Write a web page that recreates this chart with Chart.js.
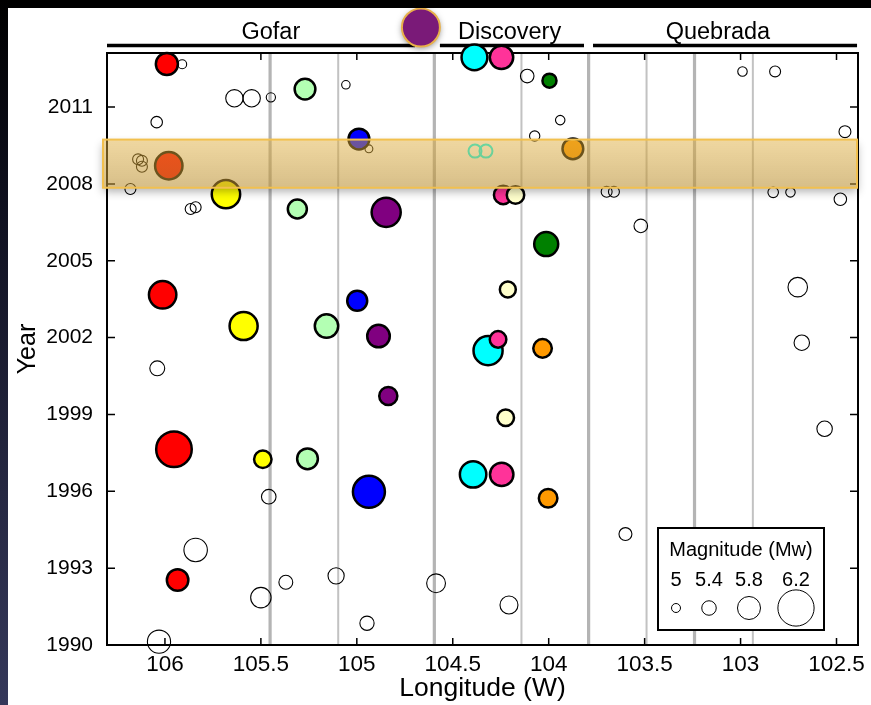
<!DOCTYPE html>
<html><head><meta charset="utf-8">
<script src="https://cdn.jsdelivr.net/npm/chart.js@4.4.1/dist/chart.umd.min.js"></script>
<style>
html,body{margin:0;padding:0;background:#000;width:871px;height:705px;overflow:hidden;}
#strip{position:absolute;left:0;top:0;width:8px;height:705px;background:linear-gradient(#000 0%,#101120 30%,#262842 70%,#35385a 100%);}
#wrap{position:absolute;left:8px;top:8px;width:863px;height:697px;background:#fff;}
canvas{display:block;}
</style></head><body>
<div id="strip"></div>
<div id="wrap"><canvas id="c" width="863" height="697"></canvas></div>
<script>
// ---------------- DATA ----------------
const xTicks = [106, 105.5, 105, 104.5, 104, 103.5, 103, 102.5];
const yTicks = [1990, 1993, 1996, 1999, 2002, 2005, 2008, 2011];
const lonRange = [102.388, 106.302];
const yearRange = [1990, 2013.11];
const legendMags = [5, 5.4, 5.8, 6.2];

const transformFaults = [105.452, 104.596, 103.792, 103.24];
const spreadingCenters = [105.097, 104.142, 103.49, 102.936];

const segmentNames = ['Gofar', 'Discovery', 'Quebrada'];
const segmentStart = [106.302, 104.567, 103.769];
const segmentEnd = [104.697, 103.816, 102.393];
const segmentLabelLon = [105.448, 104.204, 103.118];

const highlightYears = [2007.85, 2009.73];
const sliderLon = 104.666;

// events: [longitude (W), year, magnitude Mw]
const redEvents = [[105.99, 2012.68, 5.82], [105.98, 2008.71, 6.0], [106.012, 2003.67, 6.0], [105.953, 1997.64, 6.22], [105.934, 1992.54, 5.8]];
const yellowEvents = [[105.682, 2007.60, 6.03], [105.59, 2002.45, 6.02], [105.49, 1997.25, 5.63]];
const lightGreenEvents = [[105.27, 2011.70, 5.77], [105.31, 2007.02, 5.70], [105.158, 2002.45, 5.87], [105.257, 1997.27, 5.77]];
const blueEvents = [[104.989, 2009.75, 5.77], [104.998, 2003.44, 5.74], [104.937, 1995.98, 6.13]];
const purpleEvents = [[104.847, 2006.89, 6.05], [104.887, 2002.06, 5.84], [104.836, 1999.72, 5.66]];
const cyanEvents = [[104.387, 2012.94, 5.95], [104.316, 2001.49, 6.05], [104.394, 1996.66, 5.97]];
const pinkEvents = [[104.246, 2012.94, 5.87], [104.237, 2007.57, 5.68], [104.264, 2001.93, 5.59], [104.245, 1996.66, 5.87]];
const lightYellowEvents = [[104.173, 2007.57, 5.63], [104.213, 2003.88, 5.56], [104.224, 1998.87, 5.59]];
const orangeEvents = [[103.874, 2009.37, 5.77], [104.032, 2001.58, 5.68], [104.003, 1995.73, 5.68]];
const greenEvents = [[103.996, 2012.03, 5.46], [104.013, 2005.65, 5.89]];
const obsEvents = [[104.384, 2009.28, 5.37], [104.327, 2009.28, 5.37]];
const otherEvents = [
  [105.91, 2012.67, 5.0], [105.638, 2011.34, 5.56], [105.548, 2011.34, 5.56], [105.448, 2011.38, 5.03],
  [105.057, 2011.87, 4.96], [106.043, 2010.41, 5.21], [104.937, 2009.37, 4.9],
  [106.14, 2008.96, 5.17], [106.12, 2008.90, 5.17], [106.12, 2008.67, 5.17],
  [106.18, 2007.80, 5.17], [105.866, 2007.02, 5.17], [105.84, 2007.09, 5.17],
  [104.112, 2012.21, 5.35], [103.94, 2010.49, 5.05], [104.073, 2009.87, 5.12],
  [102.99, 2012.39, 5.05], [102.82, 2012.39, 5.17], [102.456, 2010.04, 5.24],
  [103.698, 2007.69, 5.17], [103.66, 2007.69, 5.17], [102.83, 2007.67, 5.14], [102.74, 2007.67, 5.05],
  [102.48, 2007.40, 5.28], [103.52, 2006.36, 5.35], [106.04, 2000.80, 5.43],
  [105.459, 1995.79, 5.41], [105.84, 1993.71, 5.82], [105.37, 1992.45, 5.37], [105.108, 1992.70, 5.50],
  [104.587, 1992.41, 5.63], [105.50, 1991.85, 5.70], [104.947, 1990.85, 5.39], [106.031, 1990.13, 5.81],
  [104.207, 1991.56, 5.59], [103.60, 1994.33, 5.31], [102.702, 2003.97, 5.66], [102.681, 2001.80, 5.46],
  [102.562, 1998.44, 5.46]
];

// ---------------- STYLE ----------------
const FONT = "'Liberation Sans', Arial, Helvetica, sans-serif";
function magRadius(m) { return 5 * Math.pow(1.55, (m - 5) / 0.4); }

function filledSet(label, events, color, order) {
  return {
    label, order, clip: false,
    data: events.map(e => ({ x: e[0], y: e[1], r: magRadius(e[2]) - 1.25 })),
    backgroundColor: color, borderColor: '#000', borderWidth: 2.5,
    hoverRadius: 0, hoverBorderWidth: 2.5
  };
}
function openSet(label, events, color, width, order) {
  return {
    label, order, clip: false,
    data: events.map(e => ({ x: e[0], y: e[1], r: magRadius(e[2]) - width / 2 })),
    backgroundColor: 'rgba(255,255,255,0)', borderColor: color, borderWidth: width,
    hoverRadius: 0, hoverBorderWidth: width
  };
}

const datasets = [
  openSet('Other events', otherEvents, '#000', 1.1, 100),
  openSet('OBS recorded', obsEvents, '#00ffff', 2, 90),
  filledSet('Red', redEvents, '#ff0000', 20),
  filledSet('Yellow', yellowEvents, '#ffff00', 20),
  filledSet('Light green', lightGreenEvents, '#b3ffb3', 20),
  filledSet('Blue', blueEvents, '#0000ff', 20),
  filledSet('Purple', purpleEvents, '#800080', 20),
  filledSet('Cyan', cyanEvents, '#00ffff', 30),
  filledSet('Pink', pinkEvents, '#ff3399', 25),
  filledSet('Light yellow', lightYellowEvents, '#ffffcc', 15),
  filledSet('Orange', orangeEvents, '#ff9900', 20),
  filledSet('Green', greenEvents, '#008000', 20)
];

const underlay = {
  id: 'underlay',
  beforeDatasetsDraw(chart) {
    const { ctx, chartArea: a, scales: { x, y } } = chart;
    ctx.save();
    ctx.strokeStyle = '#b4b4b4';
    transformFaults.forEach(l => {
      const px = x.getPixelForValue(l);
      ctx.lineWidth = 3.2; ctx.beginPath(); ctx.moveTo(px, a.top); ctx.lineTo(px, a.bottom); ctx.stroke();
    });
    ctx.strokeStyle = '#c2c2c2';
    spreadingCenters.forEach(l => {
      const px = x.getPixelForValue(l);
      ctx.lineWidth = 2; ctx.beginPath(); ctx.moveTo(px, a.top); ctx.lineTo(px, a.bottom); ctx.stroke();
    });
    ctx.strokeStyle = '#000';
    ctx.lineWidth = 2;
    ctx.strokeRect(a.left, a.top, a.right - a.left, a.bottom - a.top);
    ctx.lineWidth = 1.5;
    xTicks.forEach(v => {
      const px = x.getPixelForValue(v);
      ctx.beginPath();
      ctx.moveTo(px, a.bottom); ctx.lineTo(px, a.bottom - 7);
      ctx.moveTo(px, a.top); ctx.lineTo(px, a.top + 7);
      ctx.stroke();
    });
    yTicks.forEach(v => {
      const py = y.getPixelForValue(v);
      ctx.beginPath();
      ctx.moveTo(a.left, py); ctx.lineTo(a.left + 8, py);
      ctx.moveTo(a.right, py); ctx.lineTo(a.right - 8, py);
      ctx.stroke();
    });
    ctx.lineWidth = 3.5;
    segmentNames.forEach((n, i) => {
      const x0 = x.getPixelForValue(segmentStart[i]), x1 = x.getPixelForValue(segmentEnd[i]);
      ctx.beginPath(); ctx.moveTo(x0, a.top - 7.5); ctx.lineTo(x1, a.top - 7.5); ctx.stroke();
      ctx.fillStyle = '#000';
      ctx.font = '23.5px ' + FONT;
      ctx.textAlign = 'center'; ctx.textBaseline = 'alphabetic';
      ctx.fillText(n, x.getPixelForValue(segmentLabelLon[i]), a.top - 14);
    });
    ctx.restore();
  },
  afterDatasetsDraw(chart) {
    const { ctx, chartArea: a, scales: { x, y } } = chart;
    ctx.save();
    // highlight band: shadow only outside the band
    const yt = y.getPixelForValue(highlightYears[1]), yb = y.getPixelForValue(highlightYears[0]);
    const bx = a.left - 4, bw = a.right - 1 - bx, bh = yb - yt;
    ctx.save();
    ctx.beginPath();
    ctx.rect(0, 0, chart.width, chart.height);
    ctx.rect(bx, yt, bw, bh);
    ctx.clip('evenodd');
    ctx.shadowColor = 'rgba(0,0,0,0.32)'; ctx.shadowBlur = 9; ctx.shadowOffsetY = 4;
    ctx.fillStyle = '#000';
    ctx.fillRect(bx, yt, bw, bh);
    ctx.restore();
    const g = ctx.createLinearGradient(0, yt, 0, yb);
    g.addColorStop(0, 'rgba(222,172,58,0.48)');
    g.addColorStop(1, 'rgba(185,143,50,0.58)');
    ctx.fillStyle = g;
    ctx.fillRect(bx, yt, bw, bh);
    ctx.strokeStyle = '#f2c04e'; ctx.lineWidth = 2;
    ctx.strokeRect(bx, yt, bw, bh);
    // slider knob
    const kx = x.getPixelForValue(sliderLon), ky = a.top - 25.5;
    ctx.save();
    ctx.shadowColor = 'rgba(0,0,0,0.45)'; ctx.shadowBlur = 6; ctx.shadowOffsetY = 2;
    ctx.beginPath(); ctx.arc(kx, ky, 19, 0, Math.PI * 2);
    ctx.fillStyle = '#7a1a78'; ctx.fill();
    ctx.restore();
    ctx.beginPath(); ctx.arc(kx, ky, 19, 0, Math.PI * 2);
    ctx.strokeStyle = '#e8b04a'; ctx.lineWidth = 2; ctx.stroke();
    // magnitude legend
    const lw = 166, lh = 102;
    const lx = a.right - 34 - lw, ly = a.bottom - 15 - lh;
    ctx.fillStyle = '#fff'; ctx.fillRect(lx, ly, lw, lh);
    ctx.strokeStyle = '#000'; ctx.lineWidth = 2; ctx.strokeRect(lx, ly, lw, lh);
    ctx.fillStyle = '#000'; ctx.font = '20px ' + FONT;
    ctx.textAlign = 'center'; ctx.textBaseline = 'middle';
    ctx.fillText('Magnitude (Mw)', lx + lw / 2, ly + 22);
    const offs = [18, 51, 91, 138];
    ctx.lineWidth = 1;
    legendMags.forEach((m, i) => {
      ctx.fillText(String(m), lx + offs[i], ly + 52);
      ctx.beginPath(); ctx.arc(lx + offs[i], ly + 80, magRadius(m) - 0.5, 0, Math.PI * 2); ctx.stroke();
    });
    ctx.restore();
  }
};

function zeroPad(s) { s.paddingLeft = 0; s.paddingRight = 0; s.paddingTop = 0; s.paddingBottom = 0; }

new Chart(document.getElementById('c'), {
  type: 'bubble',
  data: { datasets },
  options: {
    responsive: false, animation: false, events: [],
    layout: { autoPadding: false, padding: { left: 0, right: 13, top: 45, bottom: 0 } },
    plugins: { legend: { display: false }, tooltip: { enabled: false } },
    scales: {
      x: {
        type: 'linear', reverse: true, min: lonRange[0], max: lonRange[1],
        afterBuildTicks: s => { s.ticks = xTicks.map(v => ({ value: v })); },
        afterFit: s => { s.height = 60; zeroPad(s); },
        grid: { display: false, drawTicks: false }, border: { display: false },
        ticks: { color: '#000', font: { family: FONT, size: 22.5 }, padding: 6, autoSkip: false, maxRotation: 0, callback: v => String(v) },
        title: { display: true, text: 'Longitude (W)', color: '#000', font: { family: FONT, size: 26.5 }, padding: { top: 0, bottom: 0 } }
      },
      y: {
        type: 'linear', min: yearRange[0], max: yearRange[1],
        afterBuildTicks: s => { s.ticks = yTicks.map(v => ({ value: v })); },
        afterFit: s => { s.width = 99; zeroPad(s); },
        grid: { display: false, drawTicks: false }, border: { display: false },
        ticks: { color: '#000', font: { family: FONT, size: 21 }, padding: 14, autoSkip: false, callback: v => String(v) },
        title: { display: true, text: 'Year', color: '#000', font: { family: FONT, size: 25 }, padding: { top: 5, bottom: 0 } }
      }
    }
  },
  plugins: [underlay]
});
</script>
</body></html>
